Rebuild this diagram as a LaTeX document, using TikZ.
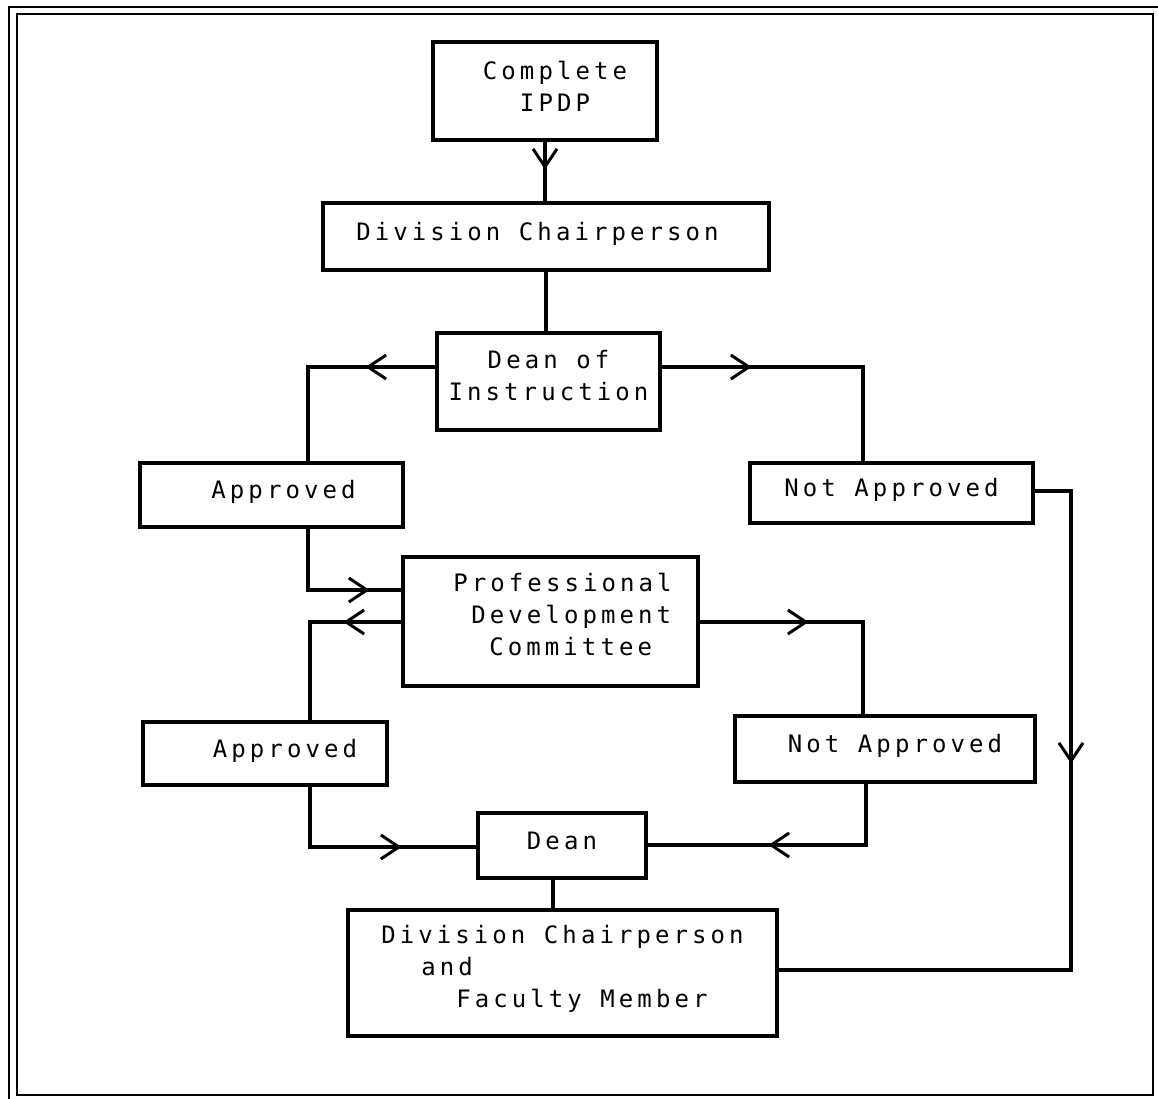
\documentclass[tikz,border=0pt]{standalone}
\usepackage{fontspec}
\newfontfamily\dotfont{DejaVu Sans Mono}[LetterSpace=17]
\usetikzlibrary{arrows.meta,decorations.markings}

% invisible rule that deepens the last text line, lifting a text block
\newcommand{\liftby}[1]{\rule[-#1]{0pt}{#1}}

\tikzset{
  box/.style={draw, rectangle, line width=3.2pt, inner sep=0pt, align=center,
    font=\dotfont\fontsize{24}{32}\selectfont},
  oneline/.style={box, text height=18pt, text depth=10.5pt},
  conn/.style={line width=3.2pt},
  % open V drawn part-way along a connector, #1 = distance from its start
  vmark/.style={postaction={decorate}, decoration={markings,
    mark=at position #1 with {\arrow[line width=3pt]{Straight Barb[length=18pt,width=24pt]}}}},
  frame/.style={line width=2.2pt},
}

\begin{document}
\begin{tikzpicture}[x=1pt, y=-1pt]
\useasboundingbox (0,0) rectangle (1158,1099);

% double border
\draw[frame] (1158,7) -- (9,7) -- (9,1099);
\draw[frame] (17,14) rectangle (1153,1095);

% boxes
\node[box, minimum width=224pt, minimum height=98pt] (ipdp) at (545,91)
  {\hspace*{20pt}Complete\\\hspace*{20pt}IPDP\liftby{10pt}};
\node[oneline, minimum width=446pt, minimum height=67pt] (dc) at (546,236.5)
  {Division Chairperson\hspace*{17pt}};
\node[box, minimum width=223pt, minimum height=97pt] (doi) at (548.5,381.5)
  {Dean of\\Instruction\liftby{12pt}};
\node[oneline, minimum width=263pt, minimum height=64pt] (app1) at (271.5,495)
  {\hspace*{24pt}Approved};
\node[oneline, minimum width=283pt, minimum height=60pt] (na1) at (891.5,493)
  {Not Approved};
\node[box, minimum width=295pt, minimum height=129pt, align=left] (pdc) at (550.5,621.5)
  {\hspace*{24pt}Professional\\\hspace*{42pt}Development\\\hspace*{60pt}Committee\liftby{14pt}};
\node[oneline, minimum width=244pt, minimum height=63pt] (app2) at (265,753.5)
  {\hspace*{40pt}Approved};
\node[oneline, minimum width=300pt, minimum height=66pt] (na2) at (885,749)
  {\hspace*{20pt}Not Approved};
\node[oneline, minimum width=168pt, minimum height=65pt] (dean) at (562,845.5)
  {Dean};
\node[box, minimum width=429pt, minimum height=126pt, align=left] (dcf) at (562.5,973)
  {Division Chairperson\\\hspace*{40pt}and\\\hspace*{75pt}Faculty Member\liftby{14pt}};

\coordinate (bend) at (1071,970);

% connectors
\draw[conn, vmark=28pt] (ipdp.south) -- (ipdp.south |- dc.north);
\draw[conn] (dc.south) -- (dc.south |- doi.north);
\draw[conn, vmark=70pt] (doi.west |- 0,367) -| (app1.north -| 308,0);
\draw[conn, vmark=90pt] (doi.east |- 0,367) -| (na1.north -| 863,0);
\draw[conn, vmark=123pt] (app1.south -| 308,0) |- (pdc.west |- 0,590);
\draw[conn, vmark=58pt] (pdc.west |- 0,622) -| (app2.north -| 310,0);
\draw[conn, vmark=109pt] (pdc.east |- 0,622) -| (na2.north -| 863,0);
\draw[conn, vmark=152pt] (app2.south -| 310,0) |- (dean.west |- 0,847);
\draw[conn, vmark=159pt] (na2.south -| 866,0) |- (dean.east |- 0,845);
\draw[conn] (dean.south -| 553,0) -- (dcf.north -| 553,0);
\draw[conn, vmark=309pt] (na1.east |- 0,491) -| (bend) -- (dcf.east |- bend);
\end{tikzpicture}
\end{document}
